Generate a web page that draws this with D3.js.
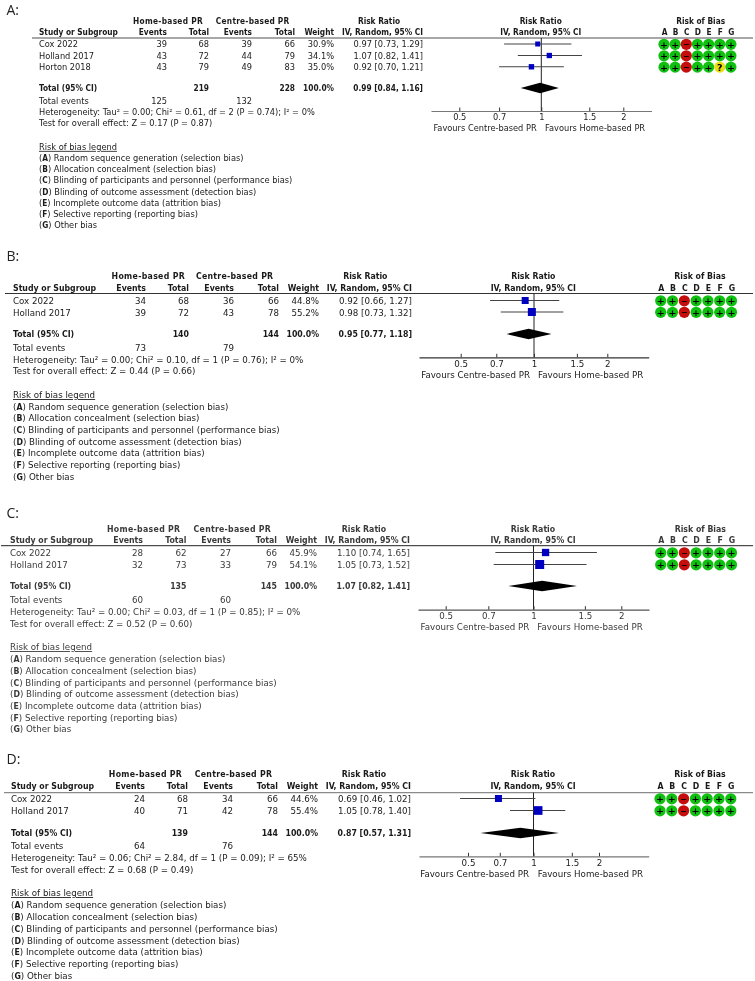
<!DOCTYPE html>
<html><head><meta charset="utf-8">
<script src="https://cdn.jsdelivr.net/npm/d3@7"></script>
<style>
html,body{margin:0;padding:0;background:#fff}
svg{display:block;filter:blur(0.25px)}
text{font-family:"DejaVu Sans",sans-serif}
text.bold,tspan.bold{font-family:"DejaVu Sans Condensed","DejaVu Sans",sans-serif;font-weight:bold}
</style></head><body><div id="c"></div>
<script>
// ---------- data ----------
const panelNames=["A:","B:","C:","D:"];
const studiesA=["Cox 2022","Holland 2017","Horton 2018"];
const studiesB=["Cox 2022","Holland 2017"];
const studiesC=["Cox 2022","Holland 2017"];
const studiesD=["Cox 2022","Holland 2017"];
const homeEventsA=[39,43,43], homeTotalA=[68,72,79], centreEventsA=[39,44,49], centreTotalA=[66,79,83];
const homeEventsB=[34,39],    homeTotalB=[68,72],    centreEventsB=[36,43],    centreTotalB=[66,78];
const homeEventsC=[28,32],    homeTotalC=[62,73],    centreEventsC=[27,33],    centreTotalC=[66,79];
const homeEventsD=[24,40],    homeTotalD=[68,71],    centreEventsD=[34,42],    centreTotalD=[66,78];
const weightA=[30.9,34.1,35.0], weightB=[44.8,55.2], weightC=[45.9,54.1], weightD=[44.6,55.4];
const rrA=[0.97,1.07,0.92], lowA=[0.73,0.82,0.70], highA=[1.29,1.41,1.21];
const rrB=[0.92,0.98],      lowB=[0.66,0.73],      highB=[1.27,1.32];
const rrC=[1.10,1.05],      lowC=[0.74,0.73],      highC=[1.65,1.52];
const rrD=[0.69,1.05],      lowD=[0.46,0.78],      highD=[1.02,1.40];
// total: home total, centre total, RR, low, high, home events, centre events
const totalA=[219,228,0.99,0.84,1.16,125,132];
const totalB=[140,144,0.95,0.77,1.18,73,79];
const totalC=[135,145,1.07,0.82,1.41,60,60];
const totalD=[139,144,0.87,0.57,1.31,64,76];
const hetA="Heterogeneity: Tau² = 0.00; Chi² = 0.61, df = 2 (P = 0.74); I² = 0%";
const hetB="Heterogeneity: Tau² = 0.00; Chi² = 0.10, df = 1 (P = 0.76); I² = 0%";
const hetC="Heterogeneity: Tau² = 0.00; Chi² = 0.03, df = 1 (P = 0.85); I² = 0%";
const hetD="Heterogeneity: Tau² = 0.06; Chi² = 2.84, df = 1 (P = 0.09); I² = 65%";
const testA="Test for overall effect: Z = 0.17 (P = 0.87)";
const testB="Test for overall effect: Z = 0.44 (P = 0.66)";
const testC="Test for overall effect: Z = 0.52 (P = 0.60)";
const testD="Test for overall effect: Z = 0.68 (P = 0.49)";
const robA=["++-++++","++-++++","++-++?+"];
const robB=["++-++++","++-++++"];
const robC=["++-++++","++-++++"];
const robD=["++-++++","++-++++"];
const robLetters=["A","B","C","D","E","F","G"];
const legendLetters=["A","B","C","D","E","F","G"];
const legendItems=["Random sequence generation (selection bias)","Allocation concealment (selection bias)","Blinding of participants and personnel (performance bias)","Blinding of outcome assessment (detection bias)","Incomplete outcome data (attrition bias)","Selective reporting (reporting bias)","Other bias"];
const axisTicks=[0.5,0.7,1,1.5,2];

// ---------- layout ----------
const layouts=[
 {lab:10,fs:8.25,col:[39,167,209,252,295,334,423],hdr:[168,252.7,379],yH:[21,32],rule:38,ruleX:32,ruleC:"#8a8a8a",ruleW:1.5,
  rows:[44.5,56,67.3],tot:88,ev:101,het:112.5,test:123.5,leg:147,legY:[158,169.3,180.6,192,203.2,214.4,225.6],
  sx:[459.3,623.3],axY:111,axX:[431,651.5],tl:118.5,fav:128,favX:[536.7,545],rrC:540.7,sq:[5,5.4],
  rob:[664,11.15],robT:700.7,text:"#1a1a1a"},
 {lab:256,fs:8.7,col:[13,146,189,234,279,319,412],hdr:[148.3,234.7,365.3],yH:[276,288],rule:293.5,ruleX:5,ruleC:"#333",ruleW:1,
  rows:[301,312.5],tot:334,ev:347.5,het:359.5,test:371,leg:395,legY:[406.5,418,430,441.5,453,465,476.5],
  sx:[460.7,607.3],axY:357.3,axX:[419,648.7],tl:365.5,fav:375,favX:[530,538],rrC:533.3,sq:[7,8],
  rob:[660.7,11.8],robT:700,text:"#1a1a1a"},
 {lab:513,fs:8.7,col:[10,143,186.5,231,277,317,410],hdr:[143.7,232.3,364],yH:[528.5,540],rule:545.7,ruleX:1,ruleC:"#222",ruleW:1,
  rows:[553,565],tot:586,ev:600,het:612,test:624,leg:647,legY:[659,670.5,682.5,694,706,717.5,729],
  sx:[445.7,621.3],axY:609.7,axX:[418,649],tl:617,fav:627,favX:[529.3,537.3],rrC:533,sq:[7.3,9],
  rob:[660.7,11.8],robT:700.3,text:"#3a3a3a"},
 {lab:759.5,fs:8.7,col:[11,145,188,233,278,318,411],hdr:[145.5,233.5,364],yH:[774,786],rule:792.7,ruleX:4,ruleC:"#8a8a8a",ruleW:1.3,
  rows:[799,811],tot:833,ev:846,het:858,test:870,leg:893,legY:[905,917,929,940.5,952,964,975.5],
  sx:[468,599],axY:856.3,axX:[419,648.7],tl:864,fav:874,favX:[529,537.7],rrC:533,sq:[7,8.7],
  rob:[660,11.8],robT:700,text:"#1a1a1a"}
];
const panels=[
 {studies:studiesA,he:homeEventsA,ht:homeTotalA,ce:centreEventsA,ct:centreTotalA,w:weightA,rr:rrA,lo:lowA,hi:highA,total:totalA,het:hetA,test:testA,rob:robA},
 {studies:studiesB,he:homeEventsB,ht:homeTotalB,ce:centreEventsB,ct:centreTotalB,w:weightB,rr:rrB,lo:lowB,hi:highB,total:totalB,het:hetB,test:testB,rob:robB},
 {studies:studiesC,he:homeEventsC,ht:homeTotalC,ce:centreEventsC,ct:centreTotalC,w:weightC,rr:rrC,lo:lowC,hi:highC,total:totalC,het:hetC,test:testC,rob:robC},
 {studies:studiesD,he:homeEventsD,ht:homeTotalD,ce:centreEventsD,ct:centreTotalD,w:weightD,rr:rrD,lo:lowD,hi:highD,total:totalD,het:hetD,test:testD,rob:robD}
];

const svg=d3.select("#c").append("svg").attr("width",755).attr("height",981).attr("viewBox","0 0 755 981");
const robFill={"+":"#10c010","-":"#c40d0d","?":"#ecdf10"};
const f2=d3.format(".2f"), f1=d3.format(".1f");
const ciText=(r,l,h)=>`${f2(r)} [${f2(l)}, ${f2(h)}]`;

panels.forEach((p,i)=>{
  const L=layouts[i];
  const g=svg.append("g");
  const T=(x,y,s,opt={})=>g.append("text").attr("x",x).attr("y",y).attr("dy","0.35em")
     .attr("text-anchor",opt.a||"start").attr("font-size",opt.fs||L.fs)
     .attr("class",opt.b?"bold":null).attr("fill",L.text).text(s);
  // panel letter
  g.append("text").attr("x",6.5).attr("y",L.lab).attr("dy","0.35em").attr("font-size",14)
   .style("font-family","'Open Sans',sans-serif").attr("fill","#222").text(panelNames[i]);
  // headers
  T(L.hdr[0],L.yH[0],"Home-based PR",{a:"middle",b:1}).style("letter-spacing","0.3px");
  T(L.hdr[1],L.yH[0],"Centre-based PR",{a:"middle",b:1}).style("letter-spacing","0.25px");
  T(L.hdr[2],L.yH[0],"Risk Ratio",{a:"middle",b:1});
  T(L.rrC,L.yH[0],"Risk Ratio",{a:"middle",b:1});
  T(L.robT,L.yH[0],"Risk of Bias",{a:"middle",b:1});
  T(L.col[0],L.yH[1],"Study or Subgroup",{b:1});
  ["Events","Total","Events","Total","Weight"].forEach((h,k)=>T(L.col[k+1],L.yH[1],h,{a:"end",b:1}));
  T(L.col[6],L.yH[1],"IV, Random, 95% CI",{a:"end",b:1});
  T(L.rrC,L.yH[1],"IV, Random, 95% CI",{a:"middle",b:1});
  robLetters.forEach((c,k)=>T(L.rob[0]+k*L.rob[1]+0.5,L.yH[1],c,{a:"middle",b:1}));
  g.append("line").attr("x1",L.ruleX).attr("x2",753).attr("y1",L.rule).attr("y2",L.rule)
    .attr("stroke",L.ruleC).attr("stroke-width",L.ruleW);
  // rows
  p.studies.forEach((s,r)=>{
    const y=L.rows[r];
    T(L.col[0],y,s);
    T(L.col[1],y,p.he[r],{a:"end"});T(L.col[2],y,p.ht[r],{a:"end"});
    T(L.col[3],y,p.ce[r],{a:"end"});T(L.col[4],y,p.ct[r],{a:"end"});
    T(L.col[5],y,f1(p.w[r])+"%",{a:"end"});
    T(L.col[6],y,ciText(p.rr[r],p.lo[r],p.hi[r]),{a:"end"});
  });
  // total
  T(L.col[0],L.tot,"Total (95% CI)",{b:1});
  T(L.col[2],L.tot,p.total[0],{a:"end",b:1});
  T(L.col[4],L.tot,p.total[1],{a:"end",b:1});
  T(L.col[5],L.tot,"100.0%",{a:"end",b:1});
  T(L.col[6],L.tot,ciText(p.total[2],p.total[3],p.total[4]),{a:"end",b:1});
  T(L.col[0],L.ev,"Total events");
  T(L.col[1],L.ev,p.total[5],{a:"end"});
  T(L.col[3],L.ev,p.total[6],{a:"end"});
  T(L.col[0],L.het,p.het);
  T(L.col[0],L.test,p.test);
  // legend
  T(L.col[0],L.leg,"Risk of bias legend").attr("text-decoration","underline");
  legendItems.forEach((t,k)=>{
    const e=T(L.col[0],L.legY[k],"(");
    e.append("tspan").attr("class","bold").text(legendLetters[k]);
    e.append("tspan").text(") "+t);
  });
  // forest scale
  const base=d3.scaleLog().domain([0.5,2]).range(L.sx);
  const x=d3.scaleLog().domain([base.invert(L.axX[0]),base.invert(L.axX[1])]).range(L.axX);
  const size=d3.scaleLinear().domain(d3.extent(p.w)).range(L.sq);
  // null line
  g.append("line").attr("x1",x(1)).attr("x2",x(1)).attr("y1",L.rule).attr("y2",L.axY)
    .attr("stroke","#222").attr("stroke-width",1);
  // axis
  const ax=g.append("g").attr("transform",`translate(0,${L.axY})`)
    .call(d3.axisBottom(x).tickValues(axisTicks).tickFormat(d=>String(d)).tickSizeInner(-3.5).tickSizeOuter(0).tickPadding(3.2));
  ax.select(".domain").attr("stroke",L.ruleC==="#222"?"#555":L.ruleC==="#333"?"#333":"#777").attr("stroke-width",1.2);
  ax.selectAll(".tick line").attr("stroke","#333").attr("stroke-width",1);
  ax.selectAll(".tick text").attr("font-size",L.fs).attr("fill",L.text).style("font-family","'DejaVu Sans',sans-serif");
  T(L.favX[0],L.fav,"Favours Centre-based PR",{a:"end"});
  T(L.favX[1],L.fav,"Favours Home-based PR");
  // CI & squares
  g.selectAll(".ci").data(p.studies).join("line")
    .attr("x1",(d,r)=>x(p.lo[r])).attr("x2",(d,r)=>x(p.hi[r]))
    .attr("y1",(d,r)=>L.rows[r]-0.5).attr("y2",(d,r)=>L.rows[r]-0.5)
    .attr("stroke","#444").attr("stroke-width",1.1);
  g.selectAll(".sq").data(p.studies).join("rect")
    .attr("x",(d,r)=>x(p.rr[r])-size(p.w[r])/2).attr("y",(d,r)=>L.rows[r]-0.5-size(p.w[r])/2)
    .attr("width",(d,r)=>size(p.w[r])).attr("height",(d,r)=>size(p.w[r])).attr("fill","#0000c0");
  // diamond
  const cy=L.tot;
  g.append("path").attr("fill","#000")
    .attr("d",d3.line()([[x(p.total[3]),cy],[x(p.total[2]),cy-5.2],[x(p.total[4]),cy],[x(p.total[2]),cy+5.2]])+"Z");
  // risk of bias
  p.rob.forEach((row,r)=>{
    robLetters.forEach((c,k)=>{
      const v=row[k], cx=L.rob[0]+k*L.rob[1], y=L.rows[r]-0.2;
      g.append("circle").attr("cx",cx).attr("cy",y).attr("r",5.6).attr("fill",robFill[v]);
      g.append("text").attr("x",cx).attr("y",y).attr("dy","0.36em").attr("text-anchor","middle")
        .attr("font-size",v==="-"?8:9.5).attr("font-weight","bold").attr("fill","#000")
        .text(v==="-"?"−":v);
    });
  });
});
</script></body></html>
